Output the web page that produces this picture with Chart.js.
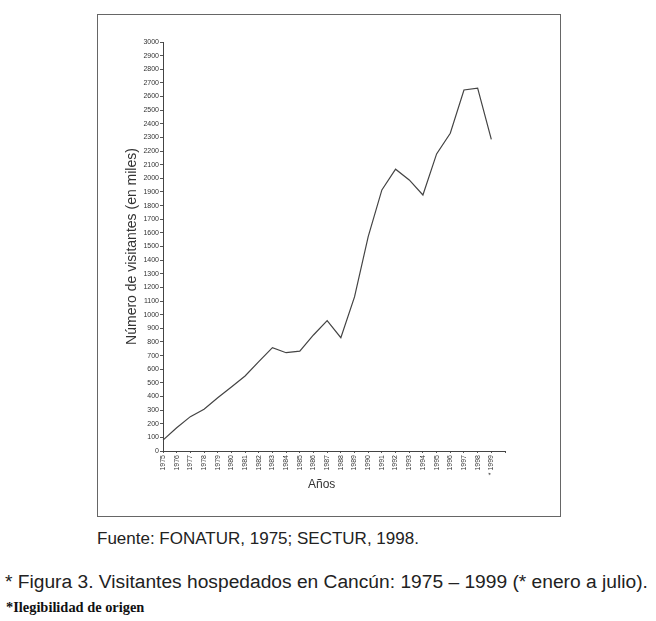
<!DOCTYPE html>
<html>
<head>
<meta charset="utf-8">
<script src="https://cdn.jsdelivr.net/npm/chart.js@4/dist/chart.umd.min.js"></script>
<style>
  html, body { margin: 0; padding: 0; background: #fff; }
  body { width: 656px; height: 621px; position: relative; overflow: hidden; font-family: "Liberation Sans", Arial, sans-serif; }
  #frame { position: absolute; left: 97px; top: 14px; width: 462px; height: 501px; border: 1px solid #666; }
  #wrap { position: absolute; left: 97px; top: 14px; width: 464px; height: 503px; }
  .txt { position: absolute; white-space: nowrap; color: #222; }
</style>
</head>
<body>
<div id="frame"></div>
<div id="wrap"><canvas id="c" width="464" height="503"></canvas></div>
<div class="txt" id="xt" style="left:308px; top:477px; font-size:12px; color:#333;">Años</div>
<div class="txt" style="left:97px; top:529px; font-size:17px;">Fuente: FONATUR, 1975; SECTUR, 1998.</div>
<div class="txt" style="left:5px; top:571px; font-size:19.2px;">* Figura 3. Visitantes hospedados en Cancún: 1975 – 1999 (* enero a julio).</div>
<div class="txt" style="left:6px; top:599px; font-size:14.4px; font-family:'Liberation Serif', 'Times New Roman', serif; font-weight:bold; color:#111;">*Ilegibilidad de origen</div>
<script>
const years = ['1975','1976','1977','1978','1979','1980','1981','1982','1983','1984','1985','1986','1987','1988','1989','1990','1991','1992','1993','1994','1995','1996','1997','1998','* 1999'];
const visitors = [80,170,252,306,390,470,550,655,758,721,733,851,956,831,1130,1572,1915,2067,1988,1878,2179,2331,2648,2661,2286];
const yTitle = 'Número de visitantes (en miles)';
const yMin = 0, yMax = 3000, yStep = 100;

const labels = years.concat(['']);
const data = visitors.concat([null]);

new Chart(document.getElementById('c'), {
  type: 'line',
  data: {
    labels: labels,
    datasets: [{
      data: data,
      borderColor: '#444',
      borderWidth: 1.2,
      pointRadius: 0,
      tension: 0,
      fill: false
    }]
  },
  options: {
    responsive: false,
    animation: false,
    layout: { padding: { top: 28, right: 56, left: 0, bottom: 0 } },
    plugins: { legend: { display: false }, tooltip: { enabled: false } },
    scales: {
      x: {
        type: 'category',
        offset: false,
        grid: { display: true, drawOnChartArea: false, tickLength: 2, color: '#555' },
        border: { display: true, color: '#444', width: 1 },
        ticks: {
          autoSkip: false, minRotation: 90, maxRotation: 90, padding: 2,
          font: { family: 'Liberation Sans', size: 7 }, color: '#333'
        },
        afterFit: s => { s.height = 66; }
      },
      y: {
        min: yMin, max: yMax,
        grid: { display: true, drawOnChartArea: false, tickLength: 3, color: '#555' },
        border: { display: true, color: '#444', width: 1 },
        ticks: {
          stepSize: yStep, padding: 1,
          font: { family: 'Liberation Sans', size: 7 }, color: '#333',
          callback: v => String(v)
        },
        title: {
          display: true, text: yTitle, color: '#333',
          font: { family: 'Liberation Sans', size: 14 },
          padding: { top: 27, bottom: 0 }
        },
        afterFit: s => { s.width = 66; }
      }
    }
  }
});
</script>
</body>
</html>
